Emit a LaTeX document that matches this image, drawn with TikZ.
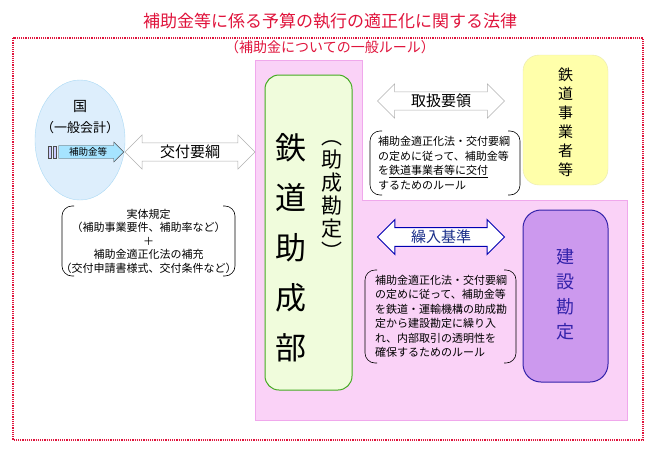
\documentclass[tikz,border=0pt]{standalone}
\usepackage{fontspec}
\setmainfont{Noto Sans CJK JP}
\usetikzlibrary{shapes.arrows,shapes.geometric}
\definecolor{tred}{HTML}{E0143C}
\definecolor{pinkf}{HTML}{FAD2F7}
\definecolor{pinkd}{HTML}{F0A8EC}
\definecolor{greenb}{HTML}{44AA22}
\definecolor{greenf}{HTML}{F0FCDC}
\definecolor{bluef}{HTML}{DDEEFC}
\definecolor{blueb}{HTML}{A8D8F4}
\definecolor{yelf}{HTML}{FFFFAA}
\definecolor{yelb}{HTML}{E8E8B0}
\definecolor{purf}{HTML}{CC99EE}
\definecolor{purb}{HTML}{3322AA}
\definecolor{dblue}{HTML}{1A2F8A}
\tikzset{
  darrow/.style={double arrow, draw=gray!60, fill=white, double arrow head extend=8pt, minimum height=#1, minimum width=32pt, inner sep=2pt, font=\fontsize{15}{15}\selectfont},
  note/.style={align=left, font=\fontsize{11}{14.5}\selectfont, inner sep=0pt},
  brk/.style={draw=black, semithick, rounded corners=10pt}
}
\newcommand{\brackets}[4]{% x1 y1 x2 y2
  \draw[brk] (#1+12,#2) -- (#1,#2) -- (#1,#4) -- (#1+12,#4);
  \draw[brk] (#3-12,#2) -- (#3,#2) -- (#3,#4) -- (#3-12,#4);}
\begin{document}
\begin{tikzpicture}[x=1pt,y=-1pt]
\useasboundingbox (0,0) rectangle (660,450);
\fill[white] (0,0) rectangle (660,450);
% title
\node[text=tred, font=\fontsize{17}{17}\selectfont] (title) at (330,21) {補助金等に係る予算の執行の適正化に関する法律};
\node[text=tred, font=\fontsize{14}{14}\selectfont] (sub) at (330,47) {（補助金についての一般ルール）};
\draw[tred, densely dotted, line width=1.2pt] (13,38) rectangle (643,440);
% pink area
\draw[pinkd, fill=pinkf] (255,60) -- (362,60) -- (362,200) -- (627,200) -- (627,420) -- (255,420) -- cycle;
% main box
\node[draw=greenb, line width=1pt, fill=greenf, rounded corners=14pt, minimum width=87pt, minimum height=315pt] (main) at (308.5,232.5) {};
\node[font=\fontsize{31}{50}\selectfont, align=center, inner sep=0pt] (mt) at (291,248) {鉄\\道\\助\\成\\部};
\node[font=\fontsize{21}{23}\selectfont, align=center, inner sep=0pt] (mt2) at (332,200) {︵\\助\\成\\勘\\定\\︶};
% ellipse
\node[ellipse, draw=blueb, fill=bluef, minimum width=90pt, minimum height=120pt] (kuni) at (80,140) {};
\node[font=\fontsize{14}{14}\selectfont] (kt) at (80,106) {国};
\node[font=\fontsize{13}{13}\selectfont] (kt2) at (80,128) {（一般会計）};
\node[single arrow, draw=black!70, fill=blue!30!cyan!35, minimum height=65pt, minimum width=20pt, single arrow head extend=3pt, inner sep=1pt, font=\fontsize{9.5}{10}\selectfont] (hojo) at (88,152) {補助金等};
\draw[black!70, fill=blue!20] (48,146) rectangle (51,158) (53,146) rectangle (56,158);
% arrows
\node[darrow=130pt] (kofu) at (190,152) {交付要綱};
\node[darrow=127pt] (tori) at (441,101) {取扱要領};
\node[darrow=127pt, draw=blue!70!black, text=dblue, line width=1pt] (kuri) at (441,237) {繰入基準};
% left note
\brackets{62}{206}{235}{276}
\node[align=center, font=\fontsize{11}{13.5}\selectfont] (n1) at (148.5,241) {実体規定\\（補助事業要件、補助率など）\\＋\\補助金適正化法の補充\\（交付申請書様式、交付条件など）};
% right notes
\brackets{370}{131}{520}{195}
\node[note] (n2) at (444,163) {補助金適正化法・交付要綱\\の定めに従って、補助金等\\を\underline{鉄道事業者等に交付}\\するためのルール};
\brackets{365}{270}{516}{363}
\node[note] (n3) at (441,316.5) {補助金適正化法・交付要綱\\の定めに従って、補助金等\\を鉄道・運輸機構の助成勘\\定から建設勘定に繰り入\\れ、内部取引の透明性を\\確保するためのルール};
% right boxes
\node[draw=yelb, fill=yelf, rounded corners=16pt, minimum width=85pt, minimum height=130pt] (jigyo) at (565.5,120) {};
\node[font=\fontsize{15}{19}\selectfont, align=center, inner sep=0pt] (jt) at (565.5,122) {鉄\\道\\事\\業\\者\\等};
\node[draw=purb, line width=1pt, fill=purf, rounded corners=18pt, minimum width=85pt, minimum height=172pt] (ken) at (565.5,296) {};
\node[font=\fontsize{18}{25}\selectfont, align=center, inner sep=0pt, text=purb] (kt3) at (565.5,294) {建\\設\\勘\\定};
\end{tikzpicture}
\end{document}
